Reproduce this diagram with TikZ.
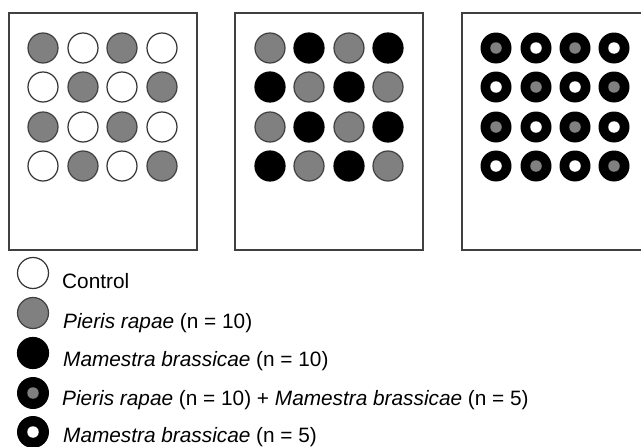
\documentclass[tikz,border=0pt]{standalone}
\usepackage{fontspec}
\setmainfont{Liberation Sans}
\begin{document}
\begin{tikzpicture}[x=1pt,y=-1pt,
  panel/.style={draw=black!75,line width=1.4pt},
  dot/.style={circle,inner sep=0pt,minimum size=30pt,line width=1.2pt},
  wdot/.style={dot,draw=black!80,fill=white},
  gdot/.style={dot,draw=black!75,fill=black!50},
  bdot/.style={dot,draw=black,fill=black},
  ring/.style={circle,inner sep=0pt,minimum size=31pt,fill=black},
  ringin/.style={circle,inner sep=0pt,minimum size=11.5pt},
  lbl/.style={anchor=base west,inner sep=0pt,font=\fontsize{20.8}{25}\selectfont}]
\useasboundingbox (0,0) rectangle (641,447);
\clip (0,0) rectangle (641,447);
\fill[white] (0,0) rectangle (641,447);
% panels
\draw[panel] (9,13) rectangle (197,250);
\draw[panel] (235,13) rectangle (423,250);
\draw[panel] (462,13) rectangle (660,250);
% panel 1
\foreach \r/\y in {1/48,2/87,3/127,4/166}{
  \foreach \c/\x in {1/43,2/83,3/122,4/162}{
    \pgfmathtruncatemacro{\s}{mod(\r+\c,2)}
    \ifnum\s=0 \node[gdot] (a\r\c) at (\x,\y) {};\else \node[wdot] (a\r\c) at (\x,\y) {};\fi
  }}
% panel 2
\foreach \r/\y in {1/48,2/87,3/127,4/166}{
  \foreach \c/\x in {1/270,2/309,3/349,4/388}{
    \pgfmathtruncatemacro{\s}{mod(\r+\c,2)}
    \ifnum\s=0 \node[gdot] (b\r\c) at (\x,\y) {};\else \node[bdot] (b\r\c) at (\x,\y) {};\fi
  }}
% panel 3
\foreach \r/\y in {1/48,2/87,3/127,4/166}{
  \foreach \c/\x in {1/496,2/536,3/575,4/614}{
    \pgfmathtruncatemacro{\s}{mod(\r+\c,2)}
    \node[ring] (c\r\c) at (\x,\y) {};
    \ifnum\s=0 \node[ringin,fill=black!50] (ci\r\c) at (\x,\y) {};\else \node[ringin,fill=white] (ci\r\c) at (\x,\y) {};\fi
  }}
% legend
\node[wdot,minimum size=31pt] (l1) at (33,273) {};
\node[gdot,minimum size=31pt] (l2) at (33,313) {};
\node[bdot,minimum size=31pt] (l3) at (33,353) {};
\node[ring,minimum size=32pt] (l4) at (33,393) {};
\node[ringin,fill=black!50] (l4i) at (33,393) {};
\node[ring,minimum size=32pt] (l5) at (33,432) {};
\node[ringin,fill=white] (l5i) at (33,432) {};
\node[lbl] (t1) at (62,288) {Control};
\node[lbl] (t2) at (63,328) {\textit{Pieris rapae} (n = 10)};
\node[lbl] (t3) at (63,366) {\textit{Mamestra brassicae} (n = 10)};
\node[lbl] (t4) at (62,405) {\textit{Pieris rapae} (n = 10) + \textit{Mamestra brassicae} (n = 5)};
\node[lbl] (t5) at (63,442) {\textit{Mamestra brassicae} (n = 5)};
\end{tikzpicture}
\end{document}
